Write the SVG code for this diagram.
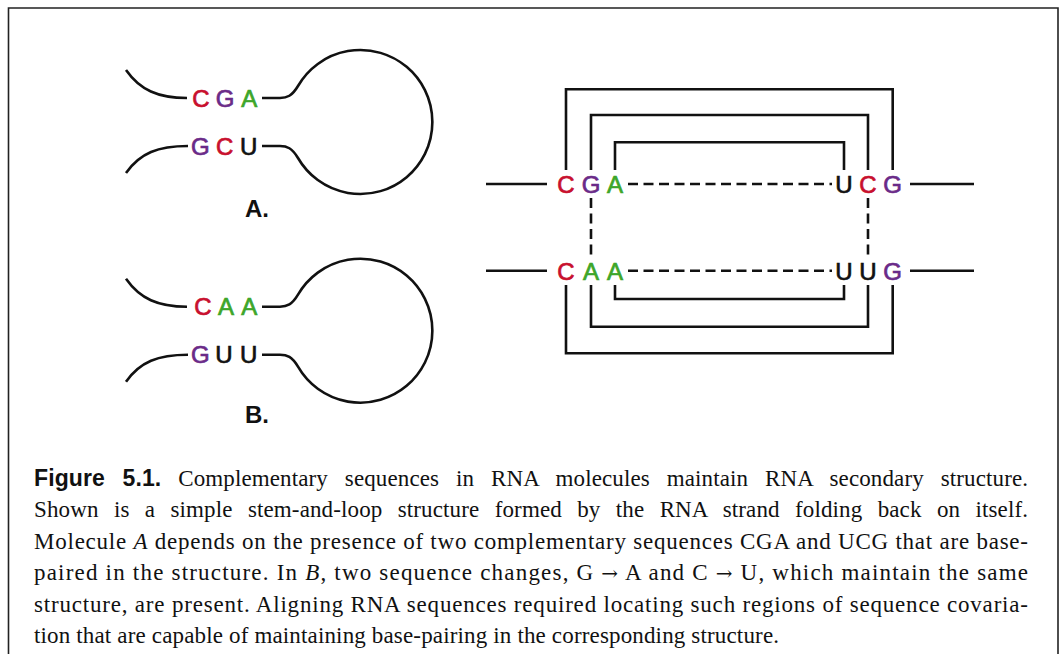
<svg xmlns="http://www.w3.org/2000/svg" width="1061" height="654" viewBox="0 0 1061 654">
  <style>
    .ln { fill: none; stroke: #111; stroke-width: 2.6; stroke-linecap: butt; stroke-linejoin: miter; }
    .dash { fill: none; stroke: #111; stroke-width: 2.6; stroke-dasharray: 10 5.5; }
    .nt { font-family: "Liberation Sans", Arial, sans-serif; font-size: 24px; text-anchor: middle; stroke-width: 0.7; }
    .lbl { font-family: "Liberation Sans", Arial, sans-serif; font-size: 24px; font-weight: bold; text-anchor: middle; fill: #111; }
    .r { fill: #c8102e; stroke: #c8102e; }
    .p { fill: #6a2a88; stroke: #6a2a88; }
    .g { fill: #3da62a; stroke: #3da62a; }
    .k { fill: #111; stroke: #111; }
    .cap { font-family: "Liberation Serif", "Times New Roman", serif; font-size: 23px; fill: #111; }
    .capb { font-family: "Liberation Sans", Arial, sans-serif; font-weight: bold; }
    .arw { font-family: "DejaVu Serif", serif; font-size: 20px; }
  </style>
  <rect width="1061" height="654" fill="#fff"/>
  <path d="M 8.5 660 V 8 H 1058 V 660" fill="none" stroke="#222" stroke-width="1.6"/>

  <g id="molecule-A">
    <path class="ln" d="M 126 70 C 140 90, 158 98, 187 98"/>
    <path class="ln" d="M 126 173 C 140 153, 158 146, 188 146"/>
    <path class="ln" d="M 262 98 H 280 C 287 98, 292 96, 298 86 A 72 72 0 1 1 298 158 C 292 148, 287 146, 280 146 H 262"/>
    <text class="nt r" x="201" y="106.5">C</text>
    <text class="nt p" x="225" y="106.5">G</text>
    <text class="nt g" x="249.3" y="106.5">A</text>
    <text class="nt p" x="200.3" y="154.5">G</text>
    <text class="nt r" x="224.7" y="154.5">C</text>
    <text class="nt k" x="248.7" y="154.5">U</text>
    <text class="lbl" x="257" y="217">A.</text>
  </g>

  <g id="molecule-B" transform="translate(0,208.7)">
    <path class="ln" d="M 126 70 C 140 90, 158 98, 187 98"/>
    <path class="ln" d="M 126 173 C 140 153, 158 146, 188 146"/>
    <path class="ln" d="M 262 98 H 280 C 287 98, 292 96, 298 86 A 72 72 0 1 1 298 158 C 292 148, 287 146, 280 146 H 262"/>
    <text class="nt r" x="203" y="106.5">C</text>
    <text class="nt g" x="226" y="106.5">A</text>
    <text class="nt g" x="249.3" y="106.5">A</text>
    <text class="nt p" x="200.3" y="154.5">G</text>
    <text class="nt k" x="224" y="154.5">U</text>
    <text class="nt k" x="248.7" y="154.5">U</text>
    <text class="lbl" x="257" y="214.5">B.</text>
  </g>

  <g id="connectors">
    <path class="ln" d="M 486 184 H 547"/>
    <path class="ln" d="M 910 184 H 974"/>
    <path class="ln" d="M 486 270.7 H 547"/>
    <path class="ln" d="M 910 270.7 H 974"/>
    <path class="dash" d="M 628 184 H 832"/>
    <path class="dash" d="M 628 270.7 H 832"/>
    <path class="dash" d="M 591 198 V 258"/>
    <path class="dash" d="M 868 198 V 258"/>
    <path class="ln" d="M 566 170 V 89.3 H 892.7 V 170"/>
    <path class="ln" d="M 591 170 V 115 H 868 V 170"/>
    <path class="ln" d="M 615 170 V 142.3 H 844 V 170"/>
    <path class="ln" d="M 615 285 V 299 H 844 V 285"/>
    <path class="ln" d="M 591 285 V 326.7 H 868 V 285"/>
    <path class="ln" d="M 566 285 V 353.3 H 892.7 V 285"/>
  </g>

  <g id="row-top">
    <text class="nt r" x="566" y="192.7">C</text>
    <text class="nt p" x="591" y="192.7">G</text>
    <text class="nt g" x="615" y="192.7">A</text>
    <text class="nt k" x="844" y="192.7">U</text>
    <text class="nt r" x="868" y="192.7">C</text>
    <text class="nt p" x="892.7" y="192.7">G</text>
  </g>
  <g id="row-bottom">
    <text class="nt r" x="566" y="279.5">C</text>
    <text class="nt g" x="591" y="279.5">A</text>
    <text class="nt g" x="615" y="279.5">A</text>
    <text class="nt k" x="844" y="279.5">U</text>
    <text class="nt k" x="868" y="279.5">U</text>
    <text class="nt p" x="892.7" y="279.5">G</text>
  </g>

  <g id="caption" class="cap">
    <text x="34" y="486" word-spacing="11" textLength="994" lengthAdjust="spacing"><tspan class="capb">Figure 5.1.</tspan> Complementary sequences in RNA molecules maintain RNA secondary structure.</text>
    <text x="34" y="517.4" word-spacing="9.5" textLength="994" lengthAdjust="spacing">Shown is a simple stem-and-loop structure formed by the RNA strand folding back on itself.</text>
    <text x="34" y="548.8" textLength="994" lengthAdjust="spacing">Molecule <tspan font-style="italic">A</tspan> depends on the presence of two complementary sequences CGA and UCG that are base-</text>
    <text x="34" y="580.2" textLength="994" lengthAdjust="spacing">paired in the structure. In <tspan font-style="italic">B</tspan>, two sequence changes, G <tspan class="arw">→</tspan> A and C <tspan class="arw">→</tspan> U, which maintain the same</text>
    <text x="34" y="611.6" textLength="994" lengthAdjust="spacing">structure, are present. Aligning RNA sequences required locating such regions of sequence covaria-</text>
    <text x="34" y="643" textLength="745" lengthAdjust="spacing">tion that are capable of maintaining base-pairing in the corresponding structure.</text>
  </g>
</svg>
